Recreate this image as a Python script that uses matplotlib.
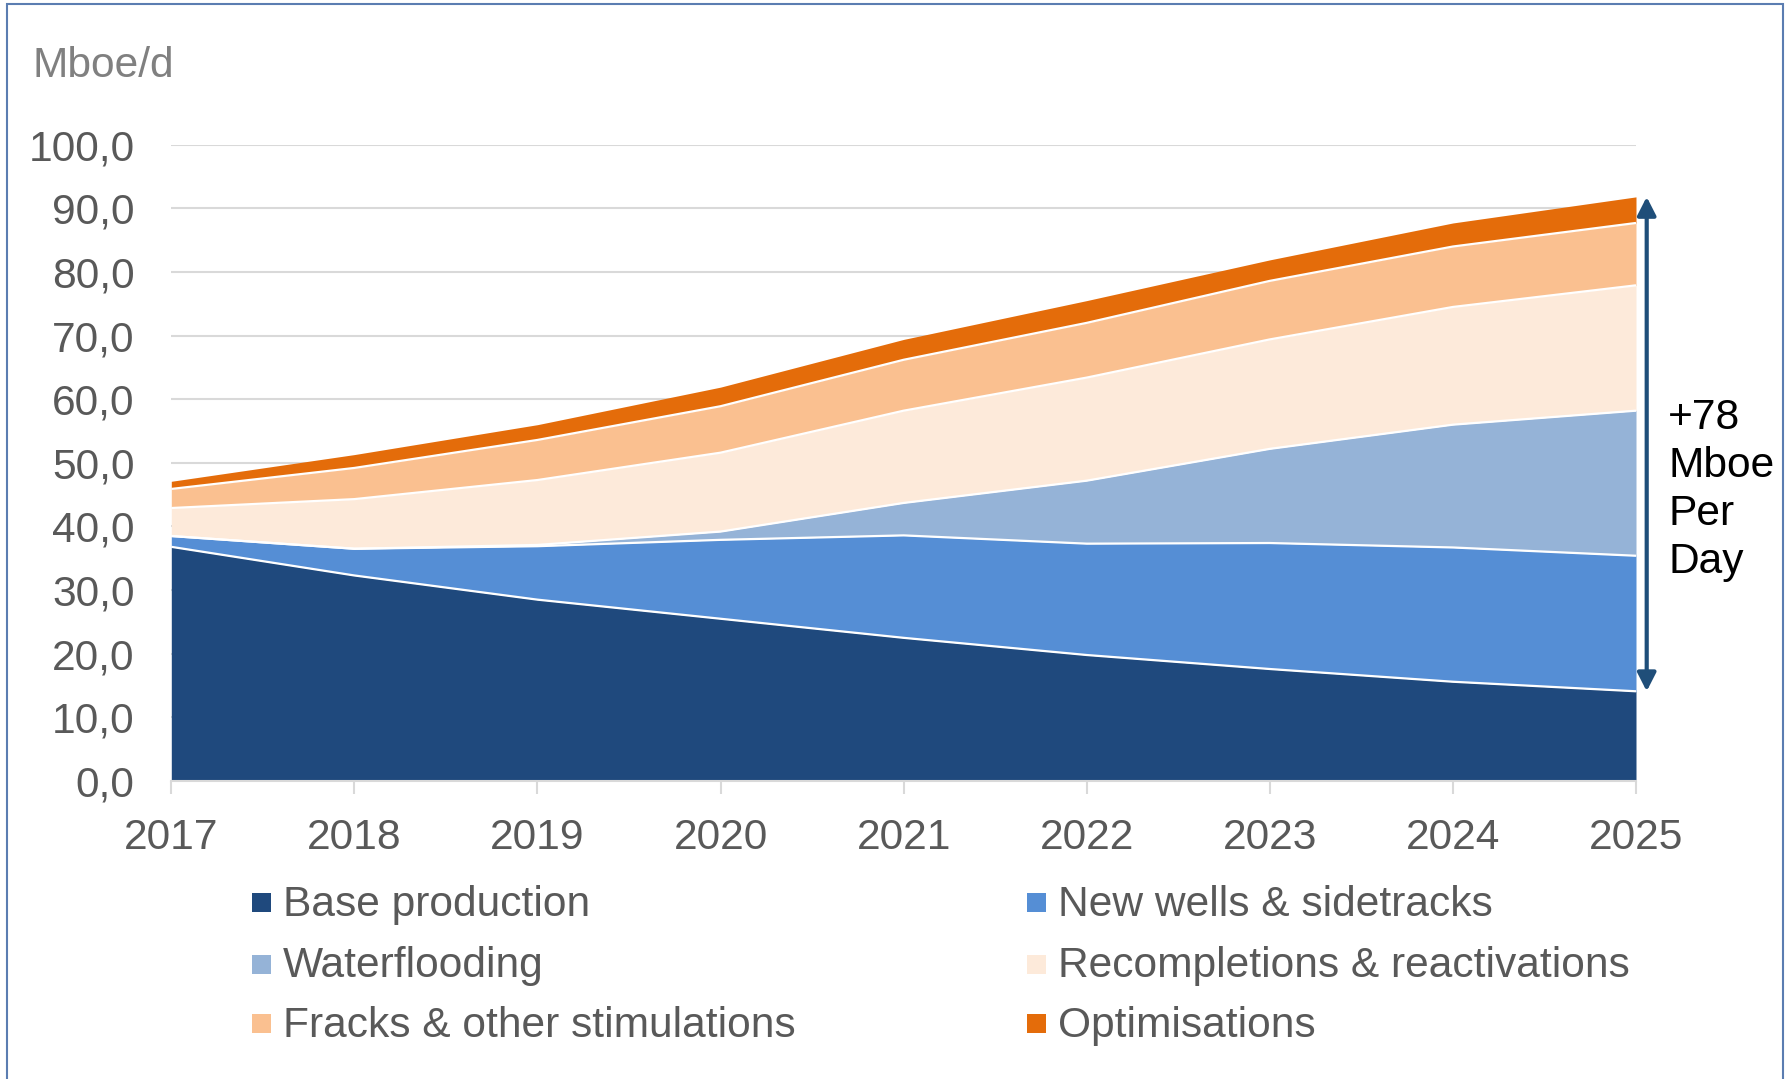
import numpy as np
import matplotlib
matplotlib.use("Agg")
import matplotlib.pyplot as plt
from matplotlib.patches import Rectangle, FancyArrowPatch
from matplotlib.ticker import FuncFormatter

plt.rcParams['font.family'] = ['Liberation Sans', 'DejaVu Sans']

# Production by source, Mboe/d
years = [2017, 2018, 2019, 2020, 2021, 2022, 2023, 2024, 2025]
base_production = [36.8, 32.3, 28.5, 25.5, 22.5, 19.8, 17.6, 15.6, 14.1]
new_wells = [1.7, 4.2, 8.4, 12.4, 16.1, 17.5, 19.8, 21.1, 21.3]
waterflooding = [0.0, 0.0, 0.2, 1.3, 5.1, 9.9, 14.8, 19.3, 22.8]
recompletions = [4.4, 7.8, 10.2, 12.4, 14.5, 16.2, 17.2, 18.5, 19.7]
fracks = [3.0, 4.9, 6.3, 7.3, 8.0, 8.6, 9.2, 9.5, 9.8]
optimisations = [1.2, 2.1, 2.4, 3.0, 3.2, 3.5, 3.3, 3.7, 4.1]

series_labels = ["Base production", "New wells & sidetracks", "Waterflooding",
                 "Recompletions & reactivations", "Fracks & other stimulations",
                 "Optimisations"]
series_colors = ["#1F497D", "#558ED5", "#95B3D7", "#FDEADA", "#FAC090", "#E46C0A"]
y_ticks = [0, 10, 20, 30, 40, 50, 60, 70, 80, 90, 100]
unit_label = "Mboe/d"
growth_label = "+78\nMboe\nPer\nDay"

FS = 30.6
W, H = 1791, 1079
fig = plt.figure(figsize=(W / 100, H / 100), dpi=100)

ax_left, ax_right, ax_top, ax_bottom = 171.3, 1636.0, 144.7, 781.0
ax = fig.add_axes([ax_left / W, 1 - ax_bottom / H,
                   (ax_right - ax_left) / W, (ax_bottom - ax_top) / H])

x = np.array(years, dtype=float)
layers = np.array([base_production, new_wells, waterflooding,
                   recompletions, fracks, optimisations])
tops = np.cumsum(layers, axis=0)
bottoms = np.vstack([np.zeros(len(years)), tops[:-1]])

for lo, hi, c in zip(bottoms, tops, series_colors):
    ax.fill_between(x, lo, hi, color=c, lw=0, zorder=2)
# white separators between stacked layers
for hi in tops[:-1]:
    ax.plot(x, hi, color="white", lw=1.6, zorder=3, solid_capstyle="butt")

ax.set_xlim(years[0], years[-1])
ax.set_ylim(0, 100)
ax.set_yticks(y_ticks)
ax.yaxis.set_major_formatter(FuncFormatter(lambda v, p: f"{v:.1f}".replace(".", ",")))
ax.set_xticks(years)
ax.set_xticklabels([str(y) for y in years])

ax.yaxis.grid(True, color="#D9D9D9", lw=1.5, zorder=0)
ax.set_axisbelow(True)
for s in ["top", "right", "left"]:
    ax.spines[s].set_visible(False)
ax.spines["bottom"].set_color("#D9D9D9")
ax.spines["bottom"].set_linewidth(1.5)
ax.spines["bottom"].set_zorder(4)

ax.tick_params(axis="y", length=0, pad=26.5, labelsize=FS, labelcolor="#595959")
ax.tick_params(axis="x", direction="out", length=9.4, width=1.5, color="#D9D9D9",
               pad=17, labelsize=FS, labelcolor="#595959")

# unit label
fig.text(32 / W, 1 - 77.3 / H, unit_label, fontsize=FS, color="#808080",
         ha="left", va="baseline")

# growth arrow from base production to total in the final year
total_last = tops[-1][-1]
base_last = base_production[-1]
arrow_x = years[-1] + (1646.7 - ax_right) / (ax_right - ax_left) * (years[-1] - years[0])
arrow = FancyArrowPatch((arrow_x, base_last), (arrow_x, total_last),
                        arrowstyle="<|-|>,head_length=0.55,head_width=0.28",
                        mutation_scale=20, color="#1F4E79", lw=3,
                        shrinkA=0, shrinkB=0, clip_on=False, zorder=5)
ax.add_patch(arrow)
fig.text(1668 / W, 1 - 490 / H, growth_label, fontsize=FS, color="black",
         ha="left", va="center", linespacing=1.25)

# legend laid out in two columns, three rows
col_marker_x = [252, 1027]
col_text_x = [283, 1058]
row_baseline = [916, 977.5, 1037]
sq = 19
for k in range(len(series_labels)):
    r, cidx = divmod(k, 2)
    bl = row_baseline[r]
    fig.patches.append(Rectangle((col_marker_x[cidx] / W, 1 - (bl - 3.7) / H),
                                 sq / W, sq / H, transform=fig.transFigure,
                                 facecolor=series_colors[k], edgecolor="none"))
    fig.text(col_text_x[cidx] / W, 1 - bl / H, series_labels[k], fontsize=FS,
             color="#595959", ha="left", va="baseline")

# outer frame
frame = Rectangle((7 / W, -0.05), (1783 - 7) / W, 1.05 - 4 / H,
                  transform=fig.transFigure, fill=False, edgecolor="#5B7DB1",
                  lw=1.5, clip_on=False)
fig.patches.append(frame)

fig.savefig("out.png", dpi=100, facecolor="white")
